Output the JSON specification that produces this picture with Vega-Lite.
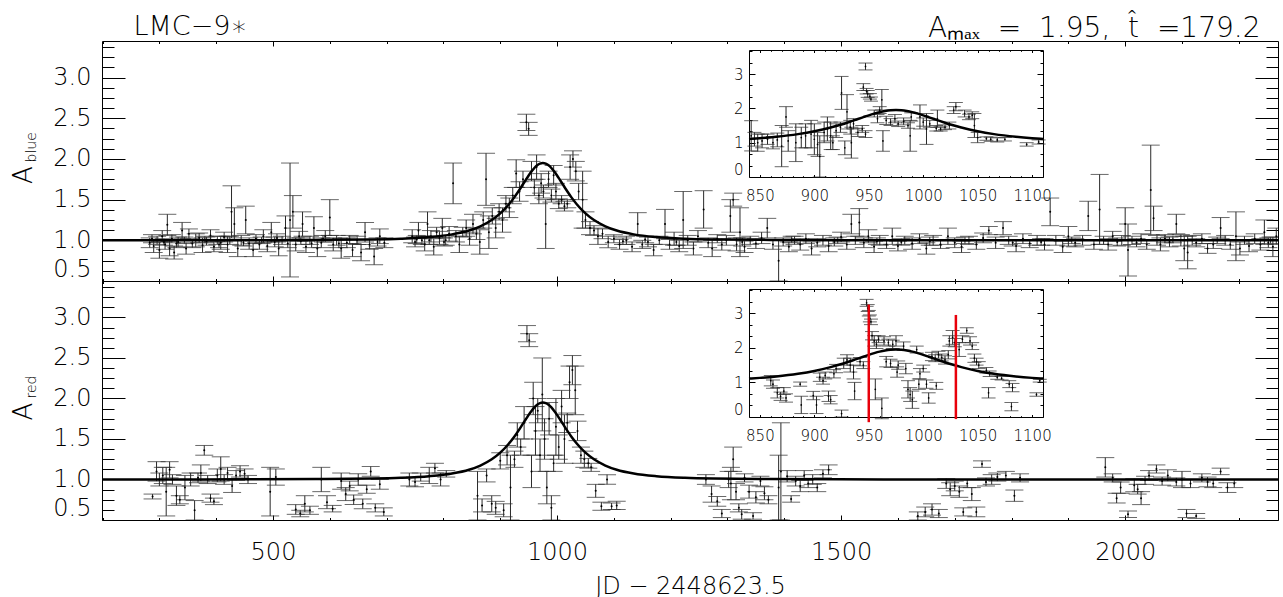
{
"$schema":"https://vega.github.io/schema/vega-lite/v6.json",
"background":"white",
"padding":{"left":9,"top":11,"right":6,"bottom":0},
"bounds":"flush",
"spacing":0,
"config":{"font":"DejaVu Sans","view":{"stroke":"#000","strokeWidth":1},
"axis":{"grid":false,"labelFont":"DejaVu Sans","titleFont":"DejaVu Sans","titleFontWeight":200,"labelFontWeight":200,"labelColor":"#000","titleColor":"#000","tickColor":"#000","domainColor":"#000","tickWidth":1,"domainWidth":1,"labelOverlap":false}},
"datasets":{
"blue":[
{"t":283,"a":0.97,"e":0.06},{"t":287,"a":1.02,"e":0.05},{"t":290,"a":0.93,"e":0.08},{"t":296,"a":1.0,"e":0.05},{"t":300,"a":0.88,"e":0.1},{"t":305,"a":1.05,"e":0.07},{"t":308,"a":0.98,"e":0.04},{"t":310,"a":0.95,"e":0.06},{"t":314,"a":1.19,"e":0.13},{"t":318,"a":0.9,"e":0.09},{"t":322,"a":1.02,"e":0.05},{"t":326,"a":0.85,"e":0.08},{"t":330,"a":0.96,"e":0.05},{"t":333,"a":0.98,"e":0.06},{"t":340,"a":1.12,"e":0.1},{"t":344,"a":1.0,"e":0.04},{"t":347,"a":0.9,"e":0.07},{"t":352,"a":1.08,"e":0.06},{"t":358,"a":0.96,"e":0.05},{"t":364,"a":1.0,"e":0.08},{"t":370,"a":1.03,"e":0.06},{"t":376,"a":0.94,"e":0.09},{"t":380,"a":1.01,"e":0.04},{"t":383,"a":0.99,"e":0.05},{"t":390,"a":1.06,"e":0.07},{"t":396,"a":0.92,"e":0.06},{"t":402,"a":1.0,"e":0.05},{"t":405,"a":0.95,"e":0.04},{"t":408,"a":0.97,"e":0.08},{"t":414,"a":1.04,"e":0.06},{"t":420,"a":0.95,"e":0.1},{"t":424,"a":1.0,"e":0.05},{"t":427,"a":1.35,"e":0.32},{"t":432,"a":1.2,"e":0.2},{"t":438,"a":0.9,"e":0.1},{"t":444,"a":1.0,"e":0.06},{"t":448,"a":0.97,"e":0.04},{"t":452,"a":1.25,"e":0.17},{"t":458,"a":0.96,"e":0.07},{"t":465,"a":0.88,"e":0.08},{"t":470,"a":1.02,"e":0.05},{"t":476,"a":0.95,"e":0.06},{"t":480,"a":1.0,"e":0.04},{"t":483,"a":1.05,"e":0.08},{"t":490,"a":0.93,"e":0.07},{"t":497,"a":1.1,"e":0.12},{"t":503,"a":0.98,"e":0.06},{"t":507,"a":1.03,"e":0.05},{"t":510,"a":0.9,"e":0.09},{"t":516,"a":1.0,"e":0.05},{"t":522,"a":1.15,"e":0.15},{"t":526,"a":0.96,"e":0.05},{"t":530,"a":1.25,"e":0.7},{"t":535,"a":1.35,"e":0.2},{"t":540,"a":0.95,"e":0.08},{"t":546,"a":1.05,"e":0.06},{"t":549,"a":0.99,"e":0.04},{"t":552,"a":1.2,"e":0.15},{"t":558,"a":0.92,"e":0.07},{"t":565,"a":1.0,"e":0.05},{"t":568,"a":0.96,"e":0.05},{"t":572,"a":1.15,"e":0.14},{"t":578,"a":0.9,"e":0.1},{"t":585,"a":0.97,"e":0.06},{"t":588,"a":1.02,"e":0.04},{"t":592,"a":1.05,"e":0.07},{"t":600,"a":1.28,"e":0.22},{"t":606,"a":0.95,"e":0.08},{"t":612,"a":1.0,"e":0.06},{"t":616,"a":0.96,"e":0.05},{"t":620,"a":0.9,"e":0.12},{"t":630,"a":0.97,"e":0.06},{"t":635,"a":1.01,"e":0.05},{"t":640,"a":0.88,"e":0.08},{"t":648,"a":1.0,"e":0.05},{"t":655,"a":0.85,"e":0.1},{"t":662,"a":1.1,"e":0.12},{"t":670,"a":0.95,"e":0.06},{"t":678,"a":0.8,"e":0.1},{"t":684,"a":0.98,"e":0.05},{"t":688,"a":1.05,"e":0.09},{"t":696,"a":0.97,"e":0.06},
{"t":745,"a":1.05,"e":0.08},{"t":750,"a":0.98,"e":0.06},{"t":753,"a":1.01,"e":0.05},{"t":756,"a":1.12,"e":0.1},{"t":762,"a":1.0,"e":0.05},{"t":767,"a":0.95,"e":0.08},{"t":772,"a":1.2,"e":0.15},{"t":775,"a":1.0,"e":0.05},{"t":778,"a":1.05,"e":0.07},{"t":783,"a":0.92,"e":0.1},{"t":788,"a":1.1,"e":0.06},{"t":793,"a":1.03,"e":0.08},{"t":798,"a":1.15,"e":0.12},{"t":801,"a":0.98,"e":0.05},{"t":804,"a":1.0,"e":0.06},{"t":810,"a":1.08,"e":0.09},{"t":817,"a":1.7,"e":0.25},{"t":822,"a":1.05,"e":0.07},{"t":828,"a":0.95,"e":0.1},{"t":834,"a":1.1,"e":0.06},{"t":840,"a":1.15,"e":0.1},{"t":846,"a":1.02,"e":0.08},{"t":852,"a":1.2,"e":0.12},{"t":858,"a":1.08,"e":0.07},{"t":864,"a":0.98,"e":0.15},{"t":870,"a":1.25,"e":0.1},{"t":875,"a":1.75,"e":0.32},{"t":880,"a":1.1,"e":0.2},{"t":886,"a":1.3,"e":0.1},{"t":892,"a":1.15,"e":0.12},{"t":898,"a":1.35,"e":0.1},{"t":904,"a":1.25,"e":0.15},{"t":910,"a":1.45,"e":0.1},{"t":916,"a":1.4,"e":0.12},{"t":922,"a":1.55,"e":0.1},{"t":928,"a":1.82,"e":0.17},{"t":934,"a":1.6,"e":0.12},{"t":940,"a":1.75,"e":0.1},{"t":946,"a":2.45,"e":0.1},{"t":950,"a":2.37,"e":0.08},{"t":955,"a":1.85,"e":0.12},{"t":960,"a":1.65,"e":0.1},{"t":964,"a":1.9,"e":0.15},{"t":968,"a":1.55,"e":0.1},{"t":972,"a":1.7,"e":0.12},{"t":976,"a":1.6,"e":0.08},{"t":980,"a":1.2,"e":0.3},{"t":985,"a":1.75,"e":0.1},{"t":990,"a":1.55,"e":0.08},{"t":994,"a":1.8,"e":0.12},{"t":998,"a":1.6,"e":0.1},{"t":1003,"a":1.45,"e":0.06},{"t":1008,"a":1.5,"e":0.05},{"t":1013,"a":1.42,"e":0.06},{"t":1018,"a":1.45,"e":0.05},{"t":1023,"a":1.9,"e":0.15},{"t":1028,"a":2.0,"e":0.1},{"t":1033,"a":1.85,"e":0.12},{"t":1038,"a":1.6,"e":0.1},{"t":1045,"a":1.5,"e":0.35},{"t":1050,"a":1.25,"e":0.1},{"t":1058,"a":1.15,"e":0.08},{"t":1065,"a":1.12,"e":0.06},{"t":1072,"a":1.05,"e":0.1},{"t":1080,"a":1.08,"e":0.06},{"t":1090,"a":0.98,"e":0.07},{"t":1100,"a":1.02,"e":0.05},{"t":1110,"a":0.95,"e":0.06},{"t":1116,"a":0.99,"e":0.04},{"t":1122,"a":1.0,"e":0.05},{"t":1132,"a":0.92,"e":0.06},{"t":1142,"a":1.2,"e":0.14},{"t":1150,"a":0.95,"e":0.05},{"t":1155,"a":1.01,"e":0.04},{"t":1160,"a":0.98,"e":0.06},{"t":1170,"a":0.88,"e":0.07},{"t":1180,"a":1.0,"e":0.05},{"t":1190,"a":1.2,"e":0.18},{"t":1198,"a":0.95,"e":0.06},{"t":1206,"a":1.02,"e":0.08},{"t":1210,"a":0.98,"e":0.04},{"t":1215,"a":0.93,"e":0.07},{"t":1222,"a":1.25,"e":0.35},{"t":1230,"a":1.0,"e":0.06},{"t":1240,"a":0.9,"e":0.08},{"t":1248,"a":1.05,"e":0.07},{"t":1258,"a":1.38,"e":0.23},{"t":1266,"a":0.97,"e":0.06},{"t":1273,"a":0.9,"e":0.1},{"t":1282,"a":1.02,"e":0.05},{"t":1290,"a":0.95,"e":0.07},{"t":1298,"a":1.0,"e":0.06},{"t":1305,"a":1.3,"e":0.2},{"t":1310,"a":1.5,"e":0.08},{"t":1316,"a":0.95,"e":0.08},{"t":1322,"a":1.1,"e":0.3},{"t":1326,"a":0.98,"e":0.05},{"t":1330,"a":0.92,"e":0.07},{"t":1340,"a":1.0,"e":0.05},{"t":1350,"a":0.96,"e":0.06},{"t":1360,"a":1.03,"e":0.07},{"t":1370,"a":1.15,"e":0.12},{"t":1380,"a":0.95,"e":0.06},{"t":1390,"a":0.75,"e":0.25},{"t":1398,"a":0.98,"e":0.05},{"t":1408,"a":0.92,"e":0.06},{"t":1413,"a":1.01,"e":0.04},{"t":1418,"a":1.0,"e":0.05},{"t":1428,"a":0.95,"e":0.07},{"t":1438,"a":1.02,"e":0.06},{"t":1448,"a":0.9,"e":0.08},{"t":1458,"a":0.97,"e":0.05},{"t":1468,"a":1.0,"e":0.06},{"t":1478,"a":0.93,"e":0.07},{"t":1488,"a":0.98,"e":0.05},{"t":1494,"a":1.0,"e":0.04},{"t":1500,"a":1.04,"e":0.06},{"t":1510,"a":0.95,"e":0.06},{"t":1518,"a":1.2,"e":0.12},{"t":1525,"a":1.0,"e":0.05},{"t":1532,"a":1.22,"e":0.17},{"t":1540,"a":0.97,"e":0.06},{"t":1548,"a":1.05,"e":0.08},{"t":1558,"a":0.92,"e":0.07},{"t":1563,"a":0.99,"e":0.04},{"t":1568,"a":1.0,"e":0.06},{"t":1580,"a":0.95,"e":0.05},{"t":1590,"a":1.05,"e":0.1},{"t":1600,"a":0.93,"e":0.06},{"t":1606,"a":0.98,"e":0.04},{"t":1612,"a":1.0,"e":0.05},{"t":1625,"a":0.96,"e":0.07},{"t":1638,"a":1.02,"e":0.06},{"t":1650,"a":0.9,"e":0.07},{"t":1656,"a":0.99,"e":0.05},{"t":1662,"a":1.0,"e":0.06},{"t":1675,"a":0.95,"e":0.05},{"t":1688,"a":1.05,"e":0.1},{"t":1700,"a":0.97,"e":0.06},{"t":1712,"a":0.92,"e":0.07},{"t":1718,"a":1.0,"e":0.04},{"t":1725,"a":1.0,"e":0.05},{"t":1738,"a":0.95,"e":0.06},{"t":1750,"a":1.03,"e":0.06},{"t":1760,"a":1.12,"e":0.05},{"t":1772,"a":0.97,"e":0.07},{"t":1785,"a":1.15,"e":0.08},{"t":1795,"a":1.0,"e":0.05},{"t":1802,"a":0.97,"e":0.04},{"t":1808,"a":0.93,"e":0.07},{"t":1820,"a":1.02,"e":0.06},{"t":1832,"a":0.96,"e":0.05},{"t":1845,"a":1.0,"e":0.06},{"t":1852,"a":0.98,"e":0.04},{"t":1858,"a":0.95,"e":0.07},{"t":1868,"a":1.35,"e":0.17},{"t":1878,"a":1.0,"e":0.06},{"t":1890,"a":0.92,"e":0.07},{"t":1900,"a":1.05,"e":0.12},{"t":1906,"a":1.0,"e":0.04},{"t":1912,"a":0.97,"e":0.05},{"t":1925,"a":1.0,"e":0.06},{"t":1935,"a":1.3,"e":0.18},{"t":1945,"a":0.95,"e":0.06},{"t":1955,"a":1.38,"e":0.43},{"t":1962,"a":1.0,"e":0.05},{"t":1970,"a":0.95,"e":0.07},{"t":1978,"a":1.05,"e":0.06},{"t":1986,"a":0.98,"e":0.05},{"t":1994,"a":1.0,"e":0.06},{"t":2000,"a":1.2,"e":0.2},{"t":2005,"a":0.88,"e":0.32},{"t":2012,"a":1.0,"e":0.05},{"t":2020,"a":0.97,"e":0.05},{"t":2028,"a":1.02,"e":0.06},{"t":2038,"a":0.95,"e":0.06},{"t":2045,"a":1.62,"e":0.55},{"t":2050,"a":1.27,"e":0.15},{"t":2056,"a":1.0,"e":0.06},{"t":2062,"a":0.95,"e":0.08},{"t":2070,"a":1.02,"e":0.05},{"t":2078,"a":0.98,"e":0.06},{"t":2084,"a":1.01,"e":0.04},{"t":2090,"a":1.2,"e":0.12},{"t":2098,"a":1.0,"e":0.07},{"t":2104,"a":0.9,"e":0.15},{"t":2110,"a":0.85,"e":0.2},{"t":2118,"a":1.0,"e":0.06},{"t":2125,"a":0.97,"e":0.05},{"t":2135,"a":1.02,"e":0.06},{"t":2145,"a":0.9,"e":0.06},{"t":2155,"a":0.95,"e":0.05},{"t":2162,"a":1.0,"e":0.04},{"t":2168,"a":1.15,"e":0.13},{"t":2176,"a":1.0,"e":0.06},{"t":2185,"a":0.95,"e":0.06},{"t":2195,"a":1.05,"e":0.3},{"t":2202,"a":0.9,"e":0.08},{"t":2210,"a":1.0,"e":0.05},{"t":2218,"a":0.93,"e":0.07},{"t":2228,"a":1.02,"e":0.06},{"t":2238,"a":0.95,"e":0.07},{"t":2245,"a":1.1,"e":0.15},{"t":2252,"a":0.97,"e":0.06},{"t":2256,"a":1.0,"e":0.04},{"t":2260,"a":0.92,"e":0.12},{"t":2266,"a":1.05,"e":0.1}
],
"red":[
{"t":288,"a":0.79,"e":0.03},{"t":295,"a":1.1,"e":0.12},{"t":300,"a":1.0,"e":0.08},{"t":306,"a":1.05,"e":0.1},{"t":312,"a":0.85,"e":0.3},{"t":318,"a":1.12,"e":0.1},{"t":323,"a":1.0,"e":0.06},{"t":330,"a":0.8,"e":0.12},{"t":336,"a":0.75,"e":0.05},{"t":345,"a":0.9,"e":0.15},{"t":355,"a":1.0,"e":0.08},{"t":362,"a":0.62,"e":0.12},{"t":368,"a":1.02,"e":0.06},{"t":373,"a":1.08,"e":0.1},{"t":379,"a":1.36,"e":0.06},{"t":385,"a":1.0,"e":0.05},{"t":390,"a":0.77,"e":0.05},{"t":396,"a":0.73,"e":0.04},{"t":402,"a":1.05,"e":0.08},{"t":408,"a":1.13,"e":0.15},{"t":414,"a":1.0,"e":0.06},{"t":420,"a":1.08,"e":0.07},{"t":428,"a":0.92,"e":0.08},{"t":435,"a":1.05,"e":0.06},{"t":442,"a":1.1,"e":0.07},{"t":450,"a":1.07,"e":0.06},{"t":456,"a":1.0,"e":0.05},
{"t":495,"a":0.85,"e":0.3},{"t":505,"a":1.03,"e":0.1},{"t":540,"a":0.63,"e":0.06},{"t":548,"a":0.58,"e":0.04},{"t":556,"a":0.7,"e":0.1},{"t":565,"a":0.62,"e":0.05},{"t":585,"a":1.0,"e":0.15},{"t":595,"a":0.72,"e":0.08},{"t":605,"a":0.64,"e":0.04},{"t":620,"a":0.98,"e":0.1},{"t":628,"a":0.82,"e":0.08},{"t":635,"a":0.92,"e":0.06},{"t":642,"a":0.75,"e":0.06},{"t":650,"a":1.0,"e":0.07},{"t":658,"a":0.7,"e":0.06},{"t":665,"a":0.88,"e":0.05},{"t":672,"a":1.1,"e":0.06},{"t":680,"a":0.65,"e":0.05},{"t":688,"a":0.94,"e":0.06},{"t":695,"a":0.6,"e":0.05},
{"t":740,"a":1.0,"e":0.08},{"t":750,"a":0.97,"e":0.06},{"t":760,"a":1.03,"e":0.05},{"t":775,"a":1.05,"e":0.1},{"t":785,"a":1.14,"e":0.06},{"t":795,"a":1.0,"e":0.08},{"t":805,"a":1.07,"e":0.04},{"t":860,"a":0.8,"e":0.3},{"t":868,"a":0.68,"e":0.08},{"t":876,"a":1.05,"e":0.08},{"t":885,"a":0.7,"e":0.1},{"t":892,"a":0.65,"e":0.08},{"t":900,"a":1.23,"e":0.1},{"t":906,"a":0.62,"e":0.08},{"t":912,"a":1.3,"e":0.12},{"t":918,"a":0.9,"e":0.4},{"t":925,"a":1.25,"e":0.1},{"t":930,"a":1.55,"e":0.15},{"t":936,"a":1.4,"e":0.1},{"t":942,"a":1.7,"e":0.2},{"t":947,"a":2.8,"e":0.1},{"t":951,"a":2.72,"e":0.08},{"t":955,"a":1.1,"e":0.2},{"t":958,"a":2.0,"e":0.2},{"t":962,"a":1.6,"e":0.3},{"t":966,"a":1.85,"e":0.15},{"t":970,"a":1.3,"e":0.2},{"t":974,"a":2.05,"e":0.45},{"t":978,"a":1.5,"e":0.25},{"t":982,"a":0.9,"e":0.2},{"t":986,"a":1.75,"e":0.2},{"t":990,"a":0.65,"e":0.15},{"t":994,"a":1.2,"e":0.1},{"t":998,"a":1.65,"e":0.35},{"t":1003,"a":1.4,"e":0.15},{"t":1008,"a":1.9,"e":0.2},{"t":1013,"a":1.5,"e":0.3},{"t":1018,"a":1.7,"e":0.12},{"t":1022,"a":2.2,"e":0.2},{"t":1027,"a":2.35,"e":0.18},{"t":1032,"a":2.1,"e":0.3},{"t":1036,"a":1.6,"e":0.12},{"t":1042,"a":1.3,"e":0.1},{"t":1048,"a":1.25,"e":0.1},{"t":1055,"a":1.2,"e":0.06},{"t":1060,"a":1.15,"e":0.05},{"t":1068,"a":0.86,"e":0.08},{"t":1078,"a":0.67,"e":0.05},{"t":1088,"a":1.0,"e":0.06},{"t":1096,"a":0.67,"e":0.04},{"t":1105,"a":0.68,"e":0.05},
{"t":1262,"a":1.0,"e":0.06},{"t":1272,"a":0.82,"e":0.1},{"t":1282,"a":0.73,"e":0.06},{"t":1290,"a":0.58,"e":0.05},{"t":1302,"a":1.0,"e":0.1},{"t":1306,"a":0.95,"e":0.2},{"t":1310,"a":1.25,"e":0.15},{"t":1315,"a":0.85,"e":0.1},{"t":1320,"a":0.65,"e":0.05},{"t":1325,"a":0.57,"e":0.06},{"t":1330,"a":1.02,"e":0.05},{"t":1338,"a":0.85,"e":0.08},{"t":1345,"a":0.55,"e":0.04},{"t":1350,"a":0.78,"e":0.07},{"t":1358,"a":0.98,"e":0.06},{"t":1365,"a":0.83,"e":0.08},{"t":1372,"a":0.75,"e":0.05},{"t":1390,"a":0.9,"e":0.4},{"t":1394,"a":1.1,"e":0.6},{"t":1405,"a":1.04,"e":0.07},{"t":1412,"a":0.76,"e":0.04},{"t":1420,"a":0.98,"e":0.06},{"t":1428,"a":0.92,"e":0.07},{"t":1435,"a":1.05,"e":0.06},{"t":1442,"a":0.95,"e":0.05},{"t":1450,"a":1.0,"e":0.06},{"t":1458,"a":0.9,"e":0.05},{"t":1468,"a":1.07,"e":0.05},{"t":1478,"a":1.12,"e":0.06},
{"t":1635,"a":0.55,"e":0.05},{"t":1648,"a":0.6,"e":0.06},{"t":1660,"a":0.63,"e":0.07},{"t":1672,"a":0.58,"e":0.05},{"t":1685,"a":0.95,"e":0.06},{"t":1692,"a":0.88,"e":0.08},{"t":1700,"a":0.92,"e":0.06},{"t":1708,"a":0.85,"e":0.07},{"t":1715,"a":0.6,"e":0.05},{"t":1722,"a":0.95,"e":0.05},{"t":1730,"a":0.82,"e":0.08},{"t":1738,"a":0.6,"e":0.06},{"t":1748,"a":1.19,"e":0.04},{"t":1755,"a":0.97,"e":0.05},{"t":1765,"a":1.0,"e":0.06},{"t":1775,"a":1.03,"e":0.05},{"t":1790,"a":1.05,"e":0.05},{"t":1805,"a":0.8,"e":0.07},{"t":1815,"a":1.02,"e":0.05},
{"t":1965,"a":1.15,"e":0.12},{"t":1978,"a":1.02,"e":0.05},{"t":1985,"a":0.77,"e":0.06},{"t":1992,"a":0.9,"e":0.07},{"t":2005,"a":0.57,"e":0.04},{"t":2016,"a":0.93,"e":0.08},{"t":2022,"a":0.88,"e":0.06},{"t":2028,"a":0.77,"e":0.08},{"t":2035,"a":0.99,"e":0.05},{"t":2042,"a":1.05,"e":0.06},{"t":2055,"a":1.13,"e":0.05},{"t":2065,"a":0.98,"e":0.05},{"t":2075,"a":1.05,"e":0.07},{"t":2090,"a":0.97,"e":0.05},{"t":2100,"a":1.0,"e":0.1},{"t":2108,"a":0.58,"e":0.05},{"t":2115,"a":0.95,"e":0.05},{"t":2125,"a":0.55,"e":0.03},{"t":2135,"a":1.02,"e":0.05},{"t":2145,"a":0.97,"e":0.06},{"t":2155,"a":0.95,"e":0.05},{"t":2168,"a":1.1,"e":0.04},{"t":2180,"a":0.9,"e":0.06},{"t":2192,"a":0.95,"e":0.05}
],
"bi":[
{"t":842,"a":1.2,"e":0.44},{"t":845,"a":1.1,"e":0.2},{"t":848,"a":1.0,"e":0.25},{"t":852,"a":1.05,"e":0.2},{"t":857,"a":1.1,"e":0.15},{"t":862,"a":1.0,"e":0.18},{"t":866,"a":1.08,"e":0.2},{"t":870,"a":0.9,"e":0.6},{"t":874,"a":1.75,"e":0.3},{"t":876,"a":1.05,"e":0.3},{"t":883,"a":1.0,"e":0.55},{"t":888,"a":1.15,"e":0.3},{"t":892,"a":1.2,"e":0.35},{"t":897,"a":1.25,"e":0.4},{"t":900,"a":1.1,"e":0.45},{"t":903,"a":0.95,"e":0.35},{"t":905,"a":0.6,"e":0.6},{"t":909,"a":1.3,"e":0.3},{"t":912,"a":1.4,"e":0.35},{"t":915,"a":1.2,"e":0.4},{"t":917,"a":1.0,"e":0.2},{"t":920,"a":1.35,"e":0.2},{"t":924,"a":1.45,"e":0.15},{"t":925,"a":2.45,"e":0.48},{"t":928,"a":0.85,"e":0.2},{"t":930,"a":1.9,"e":0.5},{"t":933,"a":1.45,"e":0.2},{"t":934,"a":1.0,"e":0.45},{"t":936,"a":1.55,"e":0.15},{"t":940,"a":1.3,"e":0.12},{"t":944,"a":1.4,"e":0.1},{"t":947,"a":1.25,"e":0.1},{"t":947,"a":3.22,"e":0.1},{"t":945,"a":2.62,"e":0.1},{"t":948,"a":2.5,"e":0.08},{"t":949,"a":2.42,"e":0.1},{"t":951,"a":2.35,"e":0.08},{"t":952,"a":2.27,"e":0.06},{"t":955,"a":1.85,"e":0.1},{"t":958,"a":1.7,"e":0.12},{"t":960,"a":1.95,"e":0.1},{"t":962,"a":2.25,"e":0.3},{"t":963,"a":1.05,"e":0.3},{"t":966,"a":1.65,"e":0.12},{"t":970,"a":1.6,"e":0.1},{"t":974,"a":1.7,"e":0.12},{"t":977,"a":1.55,"e":0.08},{"t":982,"a":1.62,"e":0.1},{"t":986,"a":1.5,"e":0.08},{"t":988,"a":1.2,"e":0.45},{"t":989,"a":1.75,"e":0.12},{"t":997,"a":1.75,"e":0.35},{"t":1000,"a":1.6,"e":0.12},{"t":1003,"a":1.4,"e":0.45},{"t":1006,"a":1.55,"e":0.1},{"t":1012,"a":1.42,"e":0.08},{"t":1013,"a":1.7,"e":0.25},{"t":1016,"a":1.4,"e":0.06},{"t":1020,"a":1.45,"e":0.07},{"t":1024,"a":1.5,"e":0.1},{"t":1028,"a":1.95,"e":0.1},{"t":1030,"a":2.05,"e":0.12},{"t":1038,"a":1.85,"e":0.1},{"t":1042,"a":1.75,"e":0.08},{"t":1045,"a":1.8,"e":0.1},{"t":1047,"a":1.5,"e":0.35},{"t":1050,"a":1.15,"e":0.15},{"t":1058,"a":1.12,"e":0.05},{"t":1062,"a":1.1,"e":0.06},{"t":1068,"a":1.08,"e":0.06},{"t":1075,"a":1.1,"e":0.05},{"t":1095,"a":0.95,"e":0.05},{"t":1106,"a":1.02,"e":0.06}
],
"ri":[
{"t":860,"a":1.05,"e":0.15},{"t":862,"a":0.95,"e":0.12},{"t":866,"a":0.7,"e":0.15},{"t":869,"a":0.6,"e":0.12},{"t":872,"a":0.75,"e":0.1},{"t":874,"a":0.55,"e":0.12},{"t":887,"a":0.95,"e":0.06},{"t":888,"a":0.35,"e":0.25},{"t":899,"a":0.62,"e":0.12},{"t":902,"a":0.35,"e":0.25},{"t":905,"a":1.15,"e":0.12},{"t":908,"a":1.05,"e":0.1},{"t":910,"a":1.2,"e":0.1},{"t":913,"a":0.6,"e":0.15},{"t":915,"a":0.5,"e":0.12},{"t":918,"a":1.25,"e":0.12},{"t":920,"a":1.4,"e":0.12},{"t":925,"a":0.1,"e":0.1},{"t":927,"a":1.55,"e":0.15},{"t":930,"a":1.65,"e":0.15},{"t":933,"a":1.5,"e":0.2},{"t":936,"a":1.3,"e":0.2},{"t":937,"a":0.75,"e":0.25},{"t":942,"a":1.6,"e":0.12},{"t":945,"a":1.5,"e":0.1},{"t":948,"a":3.3,"e":0.1},{"t":949,"a":3.15,"e":0.1},{"t":950,"a":3.0,"e":0.08},{"t":951,"a":2.85,"e":0.1},{"t":952,"a":2.75,"e":0.08},{"t":953,"a":2.35,"e":0.12},{"t":955,"a":2.2,"e":0.15},{"t":956,"a":0.8,"e":0.3},{"t":957,"a":2.1,"e":0.12},{"t":959,"a":2.25,"e":0.1},{"t":962,"a":0.25,"e":0.3},{"t":964,"a":2.2,"e":0.12},{"t":966,"a":1.6,"e":0.15},{"t":968,"a":2.15,"e":0.1},{"t":970,"a":1.55,"e":0.12},{"t":972,"a":2.1,"e":0.12},{"t":975,"a":2.2,"e":0.15},{"t":976,"a":1.3,"e":0.15},{"t":977,"a":1.5,"e":0.12},{"t":982,"a":2.05,"e":0.12},{"t":984,"a":1.4,"e":0.15},{"t":986,"a":0.8,"e":0.25},{"t":988,"a":0.65,"e":0.2},{"t":990,"a":0.5,"e":0.25},{"t":994,"a":1.95,"e":0.1},{"t":996,"a":0.95,"e":0.15},{"t":997,"a":1.25,"e":0.15},{"t":1000,"a":1.4,"e":0.1},{"t":1003,"a":0.95,"e":0.12},{"t":1005,"a":0.55,"e":0.15},{"t":1008,"a":1.75,"e":0.12},{"t":1011,"a":1.7,"e":0.1},{"t":1012,"a":0.9,"e":0.1},{"t":1014,"a":1.8,"e":0.1},{"t":1017,"a":1.72,"e":0.1},{"t":1020,"a":1.65,"e":0.12},{"t":1023,"a":1.8,"e":0.12},{"t":1024,"a":2.2,"e":0.15},{"t":1027,"a":2.3,"e":0.2},{"t":1029,"a":2.15,"e":0.12},{"t":1033,"a":1.95,"e":0.2},{"t":1036,"a":2.25,"e":0.1},{"t":1040,"a":2.5,"e":0.08},{"t":1043,"a":2.2,"e":0.12},{"t":1045,"a":2.05,"e":0.1},{"t":1047,"a":1.7,"e":0.12},{"t":1049,"a":1.6,"e":0.1},{"t":1051,"a":1.5,"e":0.1},{"t":1058,"a":1.35,"e":0.08},{"t":1060,"a":0.7,"e":0.15},{"t":1061,"a":1.25,"e":0.08},{"t":1068,"a":1.15,"e":0.06},{"t":1072,"a":1.12,"e":0.05},{"t":1079,"a":0.95,"e":0.1},{"t":1081,"a":0.3,"e":0.12},{"t":1082,"a":0.85,"e":0.12},{"t":1104,"a":0.65,"e":0.05},{"t":1107,"a":1.05,"e":0.04}
],
"model":[
{"t":199,"a":1.0},{"t":375,"a":1.001},{"t":575,"a":1.005},{"t":675,"a":1.011},{"t":725,"a":1.02},{"t":775,"a":1.04},{"t":815,"a":1.073},{"t":845,"a":1.12},{"t":865,"a":1.172},{"t":885,"a":1.249},{"t":900,"a":1.331},{"t":915,"a":1.441},{"t":925,"a":1.531},{"t":930,"a":1.581},{"t":935,"a":1.634},{"t":940,"a":1.689},{"t":945,"a":1.743},{"t":950,"a":1.797},{"t":955,"a":1.846},{"t":960,"a":1.889},{"t":965,"a":1.922},{"t":970,"a":1.943},{"t":975,"a":1.95},{"t":980,"a":1.943},{"t":985,"a":1.922},{"t":990,"a":1.889},{"t":995,"a":1.846},{"t":1000,"a":1.797},{"t":1005,"a":1.743},{"t":1010,"a":1.689},{"t":1015,"a":1.634},{"t":1020,"a":1.581},{"t":1025,"a":1.531},{"t":1035,"a":1.441},{"t":1050,"a":1.331},{"t":1065,"a":1.249},{"t":1085,"a":1.172},{"t":1105,"a":1.12},{"t":1135,"a":1.073},{"t":1175,"a":1.04},{"t":1225,"a":1.02},{"t":1275,"a":1.011},{"t":1375,"a":1.005},{"t":1575,"a":1.001},{"t":2269,"a":1.0}
],
"imodel":[
{"t":840,"a":1.11},{"t":850,"a":1.131},{"t":865,"a":1.172},{"t":885,"a":1.249},{"t":900,"a":1.331},{"t":915,"a":1.441},{"t":925,"a":1.531},{"t":930,"a":1.581},{"t":935,"a":1.634},{"t":940,"a":1.689},{"t":945,"a":1.743},{"t":950,"a":1.797},{"t":955,"a":1.846},{"t":960,"a":1.889},{"t":965,"a":1.922},{"t":970,"a":1.943},{"t":975,"a":1.95},{"t":980,"a":1.943},{"t":985,"a":1.922},{"t":990,"a":1.889},{"t":995,"a":1.846},{"t":1000,"a":1.797},{"t":1005,"a":1.743},{"t":1010,"a":1.689},{"t":1015,"a":1.634},{"t":1020,"a":1.581},{"t":1025,"a":1.531},{"t":1035,"a":1.441},{"t":1050,"a":1.331},{"t":1065,"a":1.249},{"t":1085,"a":1.172},{"t":1100,"a":1.131},{"t":1110,"a":1.11}
],
"redlines":[{"t":950,"lo":-0.15,"hi":3.25},{"t":1030,"lo":-0.06,"hi":2.95}]
},
"vconcat":[
{
"width":1176,"height":240,
"layer":[
{"layer":[
{"data":{"name":"blue"},"mark":{"type":"errorbar","ticks":true,"size":18,"thickness":1,"color":"#2a2a2a","clip":true},
"encoding":{
"x":{"field":"t","type":"quantitative","scale":{"domain":[199,2269],"nice":false,"zero":false},"axis":{"orient":"bottom","values":[500,1000,1500,2000],"labels":false,"tickSize":-5,"domain":false,"title":null}},
"y":{"field":"a","type":"quantitative","scale":{"domain":[0.5,3.45],"nice":false,"zero":false},"axis":{"orient":"left","values":[0.5,1,1.5,2,2.5,3],"format":".1f","ticks":false,"tickSize":0,"labelPadding":11,"labelFontSize":24,"labelFlush":true,"domain":false,"title":"A","titleFontSize":26,"titleAngle":270,"titleX":-71,"titleY":133.5,"titleAlign":"center","titleBaseline":"alphabetic"}},
"yError":{"field":"e"}}},
{"data":{"name":"blue"},"mark":{"type":"circle","size":4,"color":"#000","opacity":1,"clip":true},
"encoding":{
"x":{"field":"t","type":"quantitative","scale":{"domain":[199,2269],"nice":false,"zero":false},"axis":{"orient":"top","values":[500,1000,1500,2000],"labels":false,"tickSize":-5,"domain":false,"title":"A\u2098\u2090\u2093\u00a0\u00a0=\u00a0\u00a01.95,\u00a0\u00a0t\u0302\u00a0\u00a0=179.2","titleFontSize":28,"titleX":1158,"titleY":-5,"titleAlign":"right","titleBaseline":"alphabetic","titleAngle":0}},
"y":{"field":"a","type":"quantitative","scale":{"domain":[0.5,3.45],"nice":false,"zero":false},"axis":{"orient":"right","values":[0.5,1,1.5,2,2.5,3],"labels":false,"tickSize":-23,"domain":false,"title":null}}}},
{"data":{"name":"model"},"mark":{"type":"line","color":"#000","strokeWidth":2.5,"interpolate":"monotone","clip":true},
"encoding":{
"x":{"field":"t","type":"quantitative","scale":{"domain":[199,2269],"nice":false,"zero":false},"axis":{"orient":"bottom","values":[200,300,400,600,700,800,900,1100,1200,1300,1400,1600,1700,1800,1900,2100,2200],"labels":false,"tickSize":-2.5,"domain":false,"title":null}},
"y":{"field":"a","type":"quantitative","scale":{"domain":[0.5,3.45],"nice":false,"zero":false},"axis":{"orient":"left","values":[0.625,0.75,0.875,1.125,1.25,1.375,1.625,1.75,1.875,2.125,2.25,2.375,2.625,2.75,2.875,3.125,3.25,3.375],"labels":false,"tickSize":-12,"domain":false,"title":"blue","titleFontSize":14,"titleAngle":270,"titleX":-67,"titleY":121,"titleAlign":"left","titleBaseline":"alphabetic"}}}},
{"data":{"name":"model"},"mark":{"type":"line","opacity":0},
"encoding":{
"x":{"field":"t","type":"quantitative","scale":{"domain":[199,2269],"nice":false,"zero":false},"axis":{"orient":"top","values":[200,300,400,600,700,800,900,1100,1200,1300,1400,1600,1700,1800,1900,2100,2200],"labels":false,"tickSize":-2.5,"domain":false,"title":"LMC\u22129\u2217","titleFontSize":27,"titleX":31,"titleY":-7,"titleAlign":"left","titleBaseline":"alphabetic","titleAngle":0}},
"y":{"field":"a","type":"quantitative","scale":{"domain":[0.5,3.45],"nice":false,"zero":false},"axis":{"orient":"right","values":[0.625,0.75,0.875,1.125,1.25,1.375,1.625,1.75,1.875,2.125,2.25,2.375,2.625,2.75,2.875,3.125,3.25,3.375],"labels":false,"tickSize":-12,"domain":false,"title":null}}}},
{"data":{"name":"model"},"mark":{"type":"line","opacity":0},
"encoding":{
"x":{"field":"t","type":"quantitative","scale":{"domain":[199,2269],"nice":false,"zero":false},"axis":null},
"y":{"field":"a","type":"quantitative","scale":{"domain":[0.5,3.45],"nice":false,"zero":false},"axis":{"orient":"left","values":[0.5,1,1.5,2,2.5,3],"labels":false,"tickSize":-23,"domain":false,"title":null}}}}
],"resolve":{"axis":{"x":"independent","y":"independent"}}},
{"layer":[
{"data":{"name":"bi"},"mark":{"type":"errorbar","ticks":true,"size":14,"thickness":1,"color":"#2a2a2a"},
"encoding":{
"x":{"field":"t","type":"quantitative","scale":{"domain":[840,1110],"range":[647,941],"nice":false,"zero":false},"axis":{"orient":"bottom","offset":-104,"values":[850,900,950,1000,1050,1100],"format":"d","ticks":false,"tickSize":0,"labelPadding":11,"labelFontSize":15,"labelFlush":false,"domain":true,"title":null}},
"y":{"field":"a","type":"quantitative","scale":{"domain":[0,3.7],"range":[136,9],"nice":false,"zero":false},"axis":{"orient":"left","offset":-647,"values":[0,1,2,3],"format":"d","ticks":false,"tickSize":0,"labelPadding":6,"labelFontSize":15,"labelFlush":true,"domain":true,"title":null}},
"yError":{"field":"e"}}},
{"data":{"name":"bi"},"mark":{"type":"circle","size":3,"color":"#000","opacity":1},
"encoding":{
"x":{"field":"t","type":"quantitative","scale":{"domain":[840,1110],"range":[647,941],"nice":false,"zero":false},"axis":{"orient":"top","offset":-9,"values":[850,900,950,1000,1050,1100],"labels":false,"tickSize":-2.5,"domain":true,"title":null}},
"y":{"field":"a","type":"quantitative","scale":{"domain":[0,3.7],"range":[136,9],"nice":false,"zero":false},"axis":{"orient":"right","offset":-235,"values":[0,1,2,3],"labels":false,"tickSize":-6,"domain":true,"title":null}}}},
{"data":{"name":"imodel"},"mark":{"type":"line","color":"#000","strokeWidth":2.5,"interpolate":"monotone"},
"encoding":{
"x":{"field":"t","type":"quantitative","scale":{"domain":[840,1110],"range":[647,941],"nice":false,"zero":false},"axis":{"orient":"bottom","offset":-104,"values":[850,900,950,1000,1050,1100],"labels":false,"tickSize":-2.5,"domain":false,"title":null}},
"y":{"field":"a","type":"quantitative","scale":{"domain":[0,3.7],"range":[136,9],"nice":false,"zero":false},"axis":{"orient":"left","offset":-647,"values":[0,1,2,3],"labels":false,"tickSize":-6,"domain":false,"title":null}}}},
{"data":{"name":"imodel"},"mark":{"type":"line","opacity":0},
"encoding":{
"x":{"field":"t","type":"quantitative","scale":{"domain":[840,1110],"range":[647,941],"nice":false,"zero":false},"axis":{"orient":"bottom","offset":-104,"values":[860,870,880,890,910,920,930,940,960,970,980,990,1010,1020,1030,1040,1060,1070,1080,1090],"labels":false,"tickSize":-1.3,"domain":false,"title":null}},
"y":{"field":"a","type":"quantitative","scale":{"domain":[0,3.7],"range":[136,9],"nice":false,"zero":false},"axis":{"orient":"left","offset":-647,"values":[0.333,0.667,1.333,1.667,2.333,2.667,3.333,3.667],"labels":false,"tickSize":-3,"domain":false,"title":null}}}},
{"data":{"name":"imodel"},"mark":{"type":"line","opacity":0},
"encoding":{
"x":{"field":"t","type":"quantitative","scale":{"domain":[840,1110],"range":[647,941],"nice":false,"zero":false},"axis":{"orient":"top","offset":-9,"values":[860,870,880,890,910,920,930,940,960,970,980,990,1010,1020,1030,1040,1060,1070,1080,1090],"labels":false,"tickSize":-1.3,"domain":false,"title":null}},
"y":{"field":"a","type":"quantitative","scale":{"domain":[0,3.7],"range":[136,9],"nice":false,"zero":false},"axis":{"orient":"right","offset":-235,"values":[0.333,0.667,1.333,1.667,2.333,2.667,3.333,3.667],"labels":false,"tickSize":-3,"domain":false,"title":null}}}}
],"resolve":{"axis":{"x":"independent","y":"independent"}}}
],
"resolve":{"scale":{"x":"independent","y":"independent"},"axis":{"x":"independent","y":"independent"}}
},
{
"width":1176,"height":239,
"layer":[
{"layer":[
{"data":{"name":"red"},"mark":{"type":"errorbar","ticks":true,"size":18,"thickness":1,"color":"#2a2a2a","clip":true},
"encoding":{
"x":{"field":"t","type":"quantitative","scale":{"domain":[199,2269],"nice":false,"zero":false},"axis":{"orient":"bottom","values":[500,1000,1500,2000],"labels":false,"tickSize":-5,"domain":false,"title":null}},
"y":{"field":"a","type":"quantitative","scale":{"domain":[0.5,3.45],"nice":false,"zero":false},"axis":{"orient":"left","values":[0.5,1,1.5,2,2.5,3],"format":".1f","ticks":false,"tickSize":0,"labelPadding":11,"labelFontSize":24,"labelFlush":true,"domain":false,"title":"A","titleFontSize":26,"titleAngle":270,"titleX":-71,"titleY":130,"titleAlign":"center","titleBaseline":"alphabetic"}},
"yError":{"field":"e"}}},
{"data":{"name":"red"},"mark":{"type":"circle","size":4,"color":"#000","opacity":1,"clip":true},
"encoding":{
"x":{"field":"t","type":"quantitative","scale":{"domain":[199,2269],"nice":false,"zero":false},"axis":{"orient":"top","values":[500,1000,1500,2000],"labels":false,"tickSize":-5,"domain":false,"title":null}},
"y":{"field":"a","type":"quantitative","scale":{"domain":[0.5,3.45],"nice":false,"zero":false},"axis":{"orient":"right","values":[0.5,1,1.5,2,2.5,3],"labels":false,"tickSize":-23,"domain":false,"title":null}}}},
{"data":{"name":"model"},"mark":{"type":"line","color":"#000","strokeWidth":2.5,"interpolate":"monotone","clip":true},
"encoding":{
"x":{"field":"t","type":"quantitative","scale":{"domain":[199,2269],"nice":false,"zero":false},"axis":{"orient":"bottom","values":[200,300,400,600,700,800,900,1100,1200,1300,1400,1600,1700,1800,1900,2100,2200],"labels":false,"tickSize":-2.5,"domain":false,"title":null}},
"y":{"field":"a","type":"quantitative","scale":{"domain":[0.5,3.45],"nice":false,"zero":false},"axis":{"orient":"left","values":[0.625,0.75,0.875,1.125,1.25,1.375,1.625,1.75,1.875,2.125,2.25,2.375,2.625,2.75,2.875,3.125,3.25,3.375],"labels":false,"tickSize":-12,"domain":false,"title":"red","titleFontSize":14,"titleAngle":270,"titleX":-67,"titleY":117,"titleAlign":"left","titleBaseline":"alphabetic"}}}},
{"data":{"name":"model"},"mark":{"type":"line","opacity":0},
"encoding":{
"x":{"field":"t","type":"quantitative","scale":{"domain":[199,2269],"nice":false,"zero":false},"axis":{"orient":"top","values":[200,300,400,600,700,800,900,1100,1200,1300,1400,1600,1700,1800,1900,2100,2200],"labels":false,"tickSize":-2.5,"domain":false,"title":null}},
"y":{"field":"a","type":"quantitative","scale":{"domain":[0.5,3.45],"nice":false,"zero":false},"axis":{"orient":"right","values":[0.625,0.75,0.875,1.125,1.25,1.375,1.625,1.75,1.875,2.125,2.25,2.375,2.625,2.75,2.875,3.125,3.25,3.375],"labels":false,"tickSize":-12,"domain":false,"title":null}}}},
{"data":{"name":"model"},"mark":{"type":"line","opacity":0},
"encoding":{
"x":{"field":"t","type":"quantitative","scale":{"domain":[199,2269],"nice":false,"zero":false},"axis":{"orient":"bottom","values":[500,1000,1500,2000],"format":"d","ticks":false,"tickSize":0,"labelPadding":20,"labelFontSize":24,"labelFlush":false,"domain":false,"title":"JD \u2212 2448623.5","titleFontSize":24,"titleX":588,"titleY":73,"titleAlign":"center","titleBaseline":"alphabetic"}},
"y":{"field":"a","type":"quantitative","scale":{"domain":[0.5,3.45],"nice":false,"zero":false},"axis":{"orient":"left","values":[0.5,1,1.5,2,2.5,3],"labels":false,"tickSize":-23,"domain":false,"title":null}}}}
],"resolve":{"axis":{"x":"independent","y":"independent"}}},
{"layer":[
{"data":{"name":"ri"},"mark":{"type":"errorbar","ticks":true,"size":14,"thickness":1,"color":"#2a2a2a"},
"encoding":{
"x":{"field":"t","type":"quantitative","scale":{"domain":[840,1110],"range":[647,941],"nice":false,"zero":false},"axis":{"orient":"bottom","offset":-103,"values":[850,900,950,1000,1050,1100],"format":"d","ticks":false,"tickSize":0,"labelPadding":11,"labelFontSize":15,"labelFlush":false,"domain":true,"title":null}},
"y":{"field":"a","type":"quantitative","scale":{"domain":[0,3.7],"range":[136,8],"nice":false,"zero":false},"axis":{"orient":"left","offset":-647,"values":[0,1,2,3],"format":"d","ticks":false,"tickSize":0,"labelPadding":6,"labelFontSize":15,"labelFlush":true,"domain":true,"title":null}},
"yError":{"field":"e"}}},
{"data":{"name":"ri"},"mark":{"type":"circle","size":3,"color":"#000","opacity":1},
"encoding":{
"x":{"field":"t","type":"quantitative","scale":{"domain":[840,1110],"range":[647,941],"nice":false,"zero":false},"axis":{"orient":"top","offset":-8,"values":[850,900,950,1000,1050,1100],"labels":false,"tickSize":-2.5,"domain":true,"title":null}},
"y":{"field":"a","type":"quantitative","scale":{"domain":[0,3.7],"range":[136,8],"nice":false,"zero":false},"axis":{"orient":"right","offset":-235,"values":[0,1,2,3],"labels":false,"tickSize":-6,"domain":true,"title":null}}}},
{"data":{"name":"imodel"},"mark":{"type":"line","color":"#000","strokeWidth":2.5,"interpolate":"monotone"},
"encoding":{
"x":{"field":"t","type":"quantitative","scale":{"domain":[840,1110],"range":[647,941],"nice":false,"zero":false},"axis":{"orient":"bottom","offset":-103,"values":[850,900,950,1000,1050,1100],"labels":false,"tickSize":-2.5,"domain":false,"title":null}},
"y":{"field":"a","type":"quantitative","scale":{"domain":[0,3.7],"range":[136,8],"nice":false,"zero":false},"axis":{"orient":"left","offset":-647,"values":[0,1,2,3],"labels":false,"tickSize":-6,"domain":false,"title":null}}}},
{"data":{"name":"imodel"},"mark":{"type":"line","opacity":0},
"encoding":{
"x":{"field":"t","type":"quantitative","scale":{"domain":[840,1110],"range":[647,941],"nice":false,"zero":false},"axis":{"orient":"bottom","offset":-103,"values":[860,870,880,890,910,920,930,940,960,970,980,990,1010,1020,1030,1040,1060,1070,1080,1090],"labels":false,"tickSize":-1.3,"domain":false,"title":null}},
"y":{"field":"a","type":"quantitative","scale":{"domain":[0,3.7],"range":[136,8],"nice":false,"zero":false},"axis":{"orient":"left","offset":-647,"values":[0.333,0.667,1.333,1.667,2.333,2.667,3.333,3.667],"labels":false,"tickSize":-3,"domain":false,"title":null}}}},
{"data":{"name":"imodel"},"mark":{"type":"line","opacity":0},
"encoding":{
"x":{"field":"t","type":"quantitative","scale":{"domain":[840,1110],"range":[647,941],"nice":false,"zero":false},"axis":{"orient":"top","offset":-8,"values":[860,870,880,890,910,920,930,940,960,970,980,990,1010,1020,1030,1040,1060,1070,1080,1090],"labels":false,"tickSize":-1.3,"domain":false,"title":null}},
"y":{"field":"a","type":"quantitative","scale":{"domain":[0,3.7],"range":[136,8],"nice":false,"zero":false},"axis":{"orient":"right","offset":-235,"values":[0.333,0.667,1.333,1.667,2.333,2.667,3.333,3.667],"labels":false,"tickSize":-3,"domain":false,"title":null}}}},
{"data":{"name":"redlines"},"mark":{"type":"rule","color":"#e8000b","strokeWidth":2.5},
"encoding":{
"x":{"field":"t","type":"quantitative","scale":{"domain":[840,1110],"range":[647,941],"nice":false,"zero":false},"axis":null},
"y":{"field":"lo","type":"quantitative","scale":{"domain":[0,3.7],"range":[136,8],"nice":false,"zero":false},"axis":null},
"y2":{"field":"hi"}}}
],"resolve":{"axis":{"x":"independent","y":"independent"}}}
],
"resolve":{"scale":{"x":"independent","y":"independent"},"axis":{"x":"independent","y":"independent"}}
}
]
}
